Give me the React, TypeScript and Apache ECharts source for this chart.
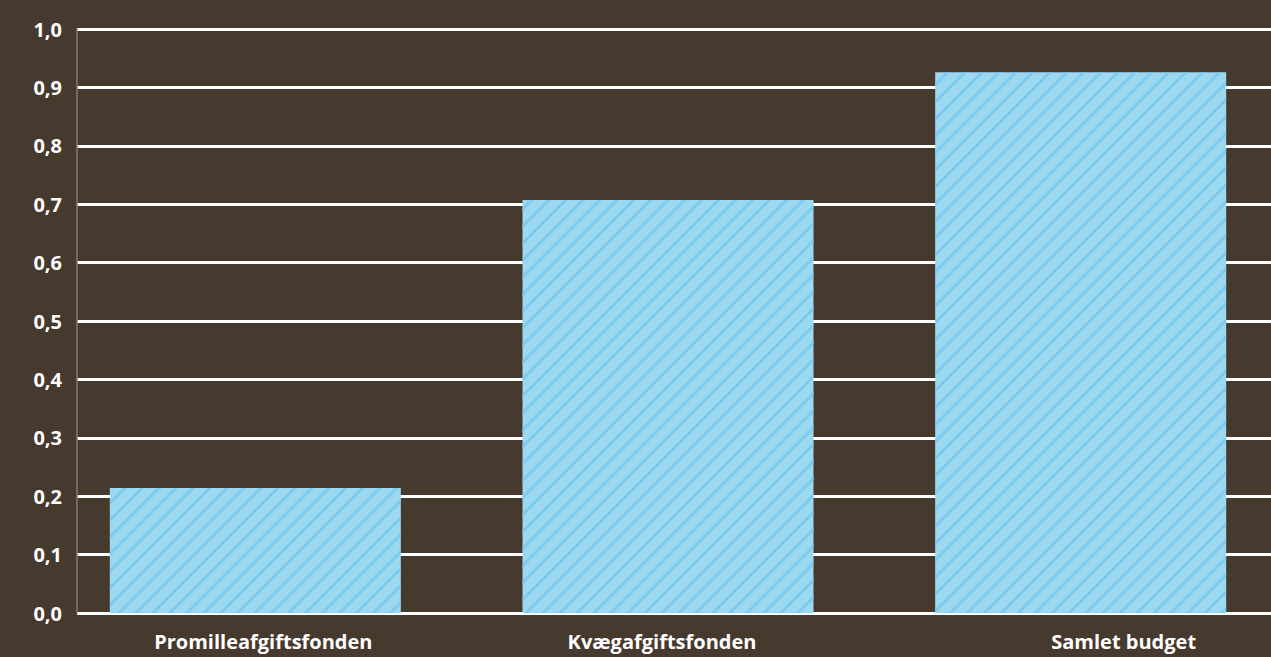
import React, { useEffect, useRef } from "react";
import * as echarts from "echarts";

const categories = ["Promilleafgiftsfonden", "Kvægafgiftsfonden", "Samlet budget"];
const values = [0.214, 0.707, 0.926];
const labelPad = [
  [0, 0, 0, 16],
  [0, 12, 0, 0],
  [0, 0, 0, 86],
];

export default function App() {
  const ref = useRef<HTMLDivElement>(null);
  useEffect(() => {
    const chart = echarts.init(ref.current!, undefined, { renderer: "svg" });
    const font = "Open Sans";
    const fs = 20;
    const base = { fontFamily: font, fontWeight: "bold", fontSize: fs, color: "#fff" };
    chart.setOption({
      animation: false,
      backgroundColor: "#46392e",
      grid: [
        { left: 49, right: 0, top: 29, bottom: 44 },
        { left: 77, right: 16, top: 29, bottom: 44 },
      ],
      xAxis: [
        {
          type: "category",
          gridIndex: 0,
          data: categories,
          axisLine: { show: false },
          axisTick: { show: false },
          axisLabel: {
            margin: 18,
            ...base,
            formatter: (v: string) => {
              const i = categories.indexOf(v);
              return `{s${i}|${v}}`;
            },
            rich: {
              s0: { ...base, padding: labelPad[0] },
              s1: { ...base, padding: labelPad[1] },
              s2: { ...base, padding: labelPad[2] },
            },
          },
        },
        { type: "value", gridIndex: 1, show: false, min: 0, max: 1 },
      ],
      yAxis: [
        { type: "value", gridIndex: 0, min: 0, max: 1, interval: 0.1, show: false },
        {
          type: "value",
          gridIndex: 1,
          min: 0,
          max: 1,
          interval: 0.1,
          axisLine: { show: true, lineStyle: { color: "#857a70", width: 1.5 } },
          axisTick: { show: false },
          splitLine: { show: true, lineStyle: { color: "#ffffff", width: 3 } },
          axisLabel: {
            margin: 15,
            ...base,
            formatter: (v: number) => v.toFixed(1).replace(".", ","),
          },
        },
      ],
      series: [
        {
          type: "bar",
          xAxisIndex: 0,
          yAxisIndex: 0,
          data: values,
          barWidth: 291,
          z: 5,
          itemStyle: {
            color: "#9dd8f1",
            decal: {
              symbol: "rect",
              symbolSize: 1,
              color: "rgba(118,200,237,0.8)",
              dashArrayX: [1, 0],
              dashArrayY: [3, 9],
              rotation: -Math.PI / 4,
            },
          },
        },
      ],
    });
    return () => chart.dispose();
  }, []);
  return (
    <div
      ref={ref}
      style={{ position: "fixed", left: 0, top: 0, width: 1287, height: 657 }}
    />
  );
}
